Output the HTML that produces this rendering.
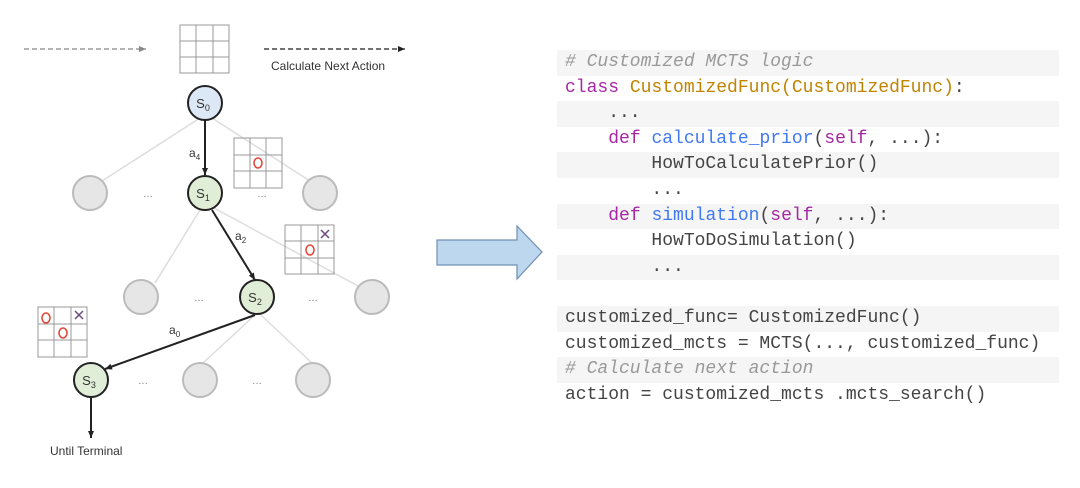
<!DOCTYPE html>
<html><head><meta charset="utf-8"><style>
html,body{margin:0;padding:0;background:#fff;width:1080px;height:488px;overflow:hidden;position:relative}
svg{position:absolute;left:0;top:0}
.code{position:absolute;left:557px;width:502px;font-family:"Liberation Mono",monospace;font-size:18px;color:#444}
.ln{height:25.6px;line-height:25.6px;padding-left:8px;white-space:pre}
.s{background:#f5f5f5}
.c{color:#999;font-style:italic}
.k{color:#a626a4}
.t{color:#c18401}
.f{color:#4078f2}
</style></head><body>
<svg width="1080" height="488" xmlns="http://www.w3.org/2000/svg" font-family="Liberation Sans, sans-serif">
<defs>
<marker id="ab" markerWidth="8" markerHeight="8" refX="7" refY="4" orient="auto" markerUnits="userSpaceOnUse"><path d="M0,1 L7,4 L0,7z" fill="#222"/></marker>
<marker id="ag" markerWidth="8" markerHeight="8" refX="7" refY="4" orient="auto" markerUnits="userSpaceOnUse"><path d="M0,1 L7,4 L0,7z" fill="#888"/></marker>
</defs>
<line x1="24" y1="49" x2="146" y2="49" stroke="#888" stroke-width="1.2" stroke-dasharray="5,3" marker-end="url(#ag)"/>
<line x1="264" y1="49" x2="405" y2="49" stroke="#222" stroke-width="1.2" stroke-dasharray="5,3" marker-end="url(#ab)"/>
<text x="271" y="70" font-size="12" fill="#333">Calculate Next Action</text>
<g stroke="#ddd" stroke-width="1.5">
<line x1="200" y1="118" x2="102" y2="181"/>
<line x1="212" y1="118" x2="310" y2="181"/>
<line x1="200" y1="210" x2="155" y2="283"/>
<line x1="214" y1="208" x2="358" y2="286"/>
<line x1="255" y1="315" x2="203" y2="363"/>
<line x1="261" y1="315" x2="312" y2="363"/>
</g>
<g stroke="#222" stroke-width="2" fill="none">
<line x1="205" y1="120" x2="205" y2="175" marker-end="url(#ab)"/>
<line x1="212" y1="210" x2="255" y2="280" marker-end="url(#ab)"/>
<line x1="255" y1="315" x2="105" y2="369" marker-end="url(#ab)"/>
<line x1="91" y1="397" x2="91" y2="438" marker-end="url(#ab)"/>
</g>
<g fill="#e6e6e6" stroke="#bbb" stroke-width="2">
<circle cx="90" cy="193" r="17"/><circle cx="320" cy="193" r="17"/>
<circle cx="141" cy="297" r="17"/><circle cx="372" cy="297" r="17"/>
<circle cx="200" cy="380" r="17"/><circle cx="313" cy="380" r="17"/>
</g>
<g stroke="#222" stroke-width="2">
<circle cx="205" cy="103" r="17" fill="#dce8f5"/>
<circle cx="205" cy="193" r="17" fill="#e0eed7"/>
<circle cx="257" cy="297" r="17" fill="#e0eed7"/>
<circle cx="91" cy="380" r="17" fill="#e0eed7"/>
</g>
<g font-size="13" fill="#333" text-anchor="middle">
<text x="203" y="108">S<tspan font-size="9" dy="3">0</tspan></text>
<text x="203" y="198">S<tspan font-size="9" dy="3">1</tspan></text>
<text x="255" y="302">S<tspan font-size="9" dy="3">2</tspan></text>
<text x="89" y="385">S<tspan font-size="9" dy="3">3</tspan></text>
</g>
<g font-size="12" fill="#333">
<text x="189" y="157">a<tspan font-size="8" dy="3">4</tspan></text>
<text x="235" y="240">a<tspan font-size="8" dy="3">2</tspan></text>
<text x="169" y="334">a<tspan font-size="8" dy="3">0</tspan></text>
<text x="50" y="455">Until Terminal</text>
</g>
<g font-size="10" fill="#777" text-anchor="middle">
<text x="148" y="197">…</text><text x="262" y="197">…</text>
<text x="199" y="301">…</text><text x="313" y="301">…</text>
<text x="143" y="384">…</text><text x="257" y="384">…</text>
</g>
<g fill="none" stroke="#999" stroke-width="1">
<path d="M180,25h49v48h-49z M196,25v48 M213,25v48 M180,41h49 M180,57h49"/>
<path d="M234,138h48v50h-48z M250,138v50 M266,138v50 M234,155h48 M234,171h48"/>
<path d="M285,225h49v49h-49z M301,225v49 M318,225v49 M285,241h49 M285,258h49"/>
<path d="M38,307h49v50h-49z M54,307v50 M71,307v50 M38,324h49 M38,340h49"/>
</g>
<g fill="none" stroke="#e04a3a" stroke-width="1.6">
<ellipse cx="258" cy="163" rx="4" ry="5"/>
<ellipse cx="310" cy="250" rx="4" ry="5"/>
<ellipse cx="46" cy="318" rx="4" ry="5"/>
<ellipse cx="63" cy="333" rx="4" ry="5"/>
</g>
<g stroke="#6a4a80" stroke-width="1.5">
<path d="M321,230l8,8 M329,230l-8,8"/>
<path d="M75,311l8,8 M83,311l-8,8"/>
</g>
<path d="M437,240h80v-14l25,26l-25,27v-14h-80z" fill="#bdd7ee" stroke="#6f8fb3" stroke-width="1.2"/>
</svg>
<div class="code" style="top:50px">
<div class="ln s c"># Customized MCTS logic</div>
<div class="ln"><span class="k">class</span> <span class="t">CustomizedFunc(CustomizedFunc)</span>:</div>
<div class="ln s">    ...</div>
<div class="ln">    <span class="k">def</span> <span class="f">calculate_prior</span>(<span class="k">self</span>, ...):</div>
<div class="ln s">        HowToCalculatePrior()</div>
<div class="ln">        ...</div>
<div class="ln s">    <span class="k">def</span> <span class="f">simulation</span>(<span class="k">self</span>, ...):</div>
<div class="ln">        HowToDoSimulation()</div>
<div class="ln s">        ...</div>
<div class="ln"> </div>
<div class="ln s">customized_func= CustomizedFunc()</div>
<div class="ln">customized_mcts = MCTS(..., customized_func)</div>
<div class="ln s c"># Calculate next action</div>
<div class="ln">action = customized_mcts .mcts_search()</div>
</div>
</body></html>
